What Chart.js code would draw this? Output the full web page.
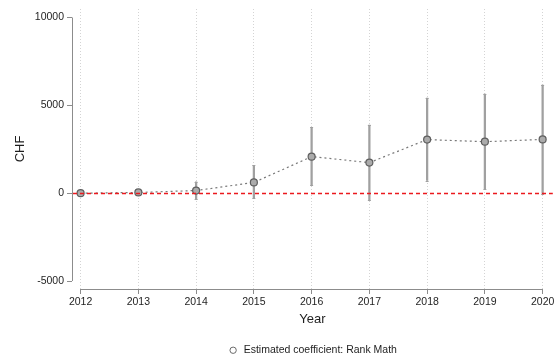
<!DOCTYPE html>
<html>
<head>
<meta charset="utf-8">
<script src="https://cdn.jsdelivr.net/npm/chart.js@4/dist/chart.umd.min.js"></script>
<style>
  html, body { margin: 0; padding: 0; background: #fff; overflow: hidden; }
  canvas { display: block; }
</style>
</head>
<body>
<canvas id="c" width="558" height="358"></canvas>
<script>
// Event-study estimates by year (CHF), with 95% confidence bounds
const years = [2012, 2013, 2014, 2015, 2016, 2017, 2018, 2019, 2020];
const coef = [0, 40, 150, 610, 2080, 1740, 3050, 2930, 3060];
const ciLow = [0, -80, -360, -290, 456, -400, 720, 262, -20];
const ciHigh = [0, 160, 640, 1580, 3740, 3876, 5415, 5640, 6150];
const yTicks = [-5000, 0, 5000, 10000];
const seriesLabel = 'Estimated coefficient: Rank Math';

const FONT = '"Liberation Sans", Arial, Helvetica, sans-serif';
const AXIS_GREY = '#8c8c8c';
const TEXT = '#1e1e1e';

// Axis lines span only the labelled range, plus the red reference line at zero
const axisDecor = {
  id: 'axisDecor',
  beforeDatasetsDraw(chart) {
    const { ctx, chartArea, scales: { x, y } } = chart;
    ctx.save();
    ctx.strokeStyle = AXIS_GREY;
    ctx.lineWidth = 1;
    ctx.setLineDash([]);
    ctx.beginPath();
    ctx.moveTo(chartArea.left + 0.5, y.getPixelForValue(yTicks[0]));
    ctx.lineTo(chartArea.left + 0.5, y.getPixelForValue(yTicks[yTicks.length - 1]));
    ctx.moveTo(x.getPixelForValue(years[0]), chartArea.bottom + 0.5);
    ctx.lineTo(x.getPixelForValue(years[years.length - 1]), chartArea.bottom + 0.5);
    ctx.stroke();
    ctx.restore();
  },
  afterDatasetsDraw(chart) {
    const { ctx, chartArea, scales: { y } } = chart;
    ctx.save();
    const y0 = Math.round(y.getPixelForValue(0)) + 0.5;
    ctx.strokeStyle = 'rgb(235, 25, 30)';
    ctx.lineWidth = 1.3;
    ctx.setLineDash([4, 3]);
    ctx.beginPath();
    ctx.moveTo(chartArea.left + 1, y0);
    ctx.lineTo(chartArea.right, y0);
    ctx.stroke();
    ctx.restore();
  },
  afterDatasetDraw(chart, args) {
    // small caps on the confidence-interval bars
    if (args.index !== 1) return;
    const { ctx, scales: { x, y } } = chart;
    ctx.save();
    ctx.strokeStyle = '#a0a0a0';
    ctx.lineWidth = 1;
    ctx.beginPath();
    years.forEach((yr, i) => {
      if (ciHigh[i] === ciLow[i]) return;
      const px = x.getPixelForValue(yr);
      [ciLow[i], ciHigh[i]].forEach(v => {
        const py = Math.round(y.getPixelForValue(v)) + 0.5;
        ctx.moveTo(px - 1.5, py);
        ctx.lineTo(px + 1.5, py);
      });
    });
    ctx.stroke();
    ctx.restore();
  }
};

// Fixed legend height so the plot region keeps its place
const legendHeight = {
  id: 'legendHeight',
  afterInit(chart) {
    const lg = chart.legend;
    if (!lg) return;
    const fit = lg.fit;
    lg.fit = function () {
      fit.call(this);
      this.height = 29;
    };
  }
};

new Chart(document.getElementById('c'), {
  type: 'line',
  data: {
    datasets: [
      {
        label: seriesLabel,
        data: years.map((yr, i) => ({ x: yr, y: coef[i] })),
        borderColor: '#7a7a7a',
        borderWidth: 1.2,
        borderDash: [2, 3],
        pointRadius: 3.5,
        pointBackgroundColor: '#ababab',
        pointBorderColor: '#5e5e5e',
        pointBorderWidth: 1.2,
        tension: 0,
        order: 0
      },
      {
        type: 'bar',
        label: '95% CI',
        data: years.map((yr, i) => ({ x: yr, y: [ciLow[i], ciHigh[i]] })),
        backgroundColor: '#a0a0a0',
        borderWidth: 0,
        barThickness: 1.6,
        grouped: false,
        order: 1
      }
    ]
  },
  options: {
    responsive: false,
    animation: false,
    devicePixelRatio: 1,
    layout: { padding: { top: 9, left: 0, right: 0, bottom: 0 } },
    plugins: {
      tooltip: { enabled: false },
      legend: {
        position: 'bottom',
        fullSize: false,
        labels: {
          color: TEXT,
          font: { family: FONT, size: 10.5 },
          usePointStyle: true,
          boxHeight: 4.5,
          padding: 16,
          generateLabels: () => [{
            text: seriesLabel,
            fillStyle: '#ffffff',
            strokeStyle: '#6a6a6a',
            lineWidth: 1,
            pointStyle: 'circle',
            hidden: false,
            datasetIndex: 0,
            fontColor: TEXT
          }]
        }
      }
    },
    scales: {
      x: {
        type: 'linear',
        offset: false,
        min: 2011.851,
        max: 2020.176,
        afterBuildTicks: s => { s.ticks = years.map(v => ({ value: v })); },
        afterFit: s => { s.paddingLeft = 0; s.paddingRight = 0; s.height = 40; },
        border: { display: false, dash: [1, 2] },
        grid: {
          offset: false,
          color: '#d4d4d4',
          lineWidth: 1,
          drawOnChartArea: true,
          drawTicks: true,
          tickLength: 5,
          tickColor: AXIS_GREY,
          tickBorderDash: []
        },
        ticks: {
          color: TEXT,
          font: { family: FONT, size: 10.5 },
          padding: 2,
          maxRotation: 0,
          autoSkip: false,
          callback: v => String(v)
        },
        title: {
          display: true,
          text: 'Year',
          color: TEXT,
          font: { family: FONT, size: 13 },
          padding: { top: 0, bottom: 2 }
        }
      },
      y: {
        type: 'linear',
        min: -5455,
        max: 10484,
        afterBuildTicks: s => { s.ticks = yTicks.map(v => ({ value: v })); },
        afterFit: s => { s.width = 72; s.paddingTop = 0; s.paddingBottom = 0; },
        border: { display: false },
        grid: {
          drawOnChartArea: false,
          drawTicks: true,
          tickLength: 5,
          tickColor: AXIS_GREY,
          tickBorderDash: []
        },
        ticks: {
          color: TEXT,
          font: { family: FONT, size: 10.5 },
          padding: 3,
          callback: v => String(v)
        },
        title: {
          display: true,
          text: 'CHF',
          color: TEXT,
          font: { family: FONT, size: 13 },
          padding: { top: 13, bottom: 0 }
        }
      }
    }
  },
  plugins: [axisDecor, legendHeight]
});
</script>
</body>
</html>
